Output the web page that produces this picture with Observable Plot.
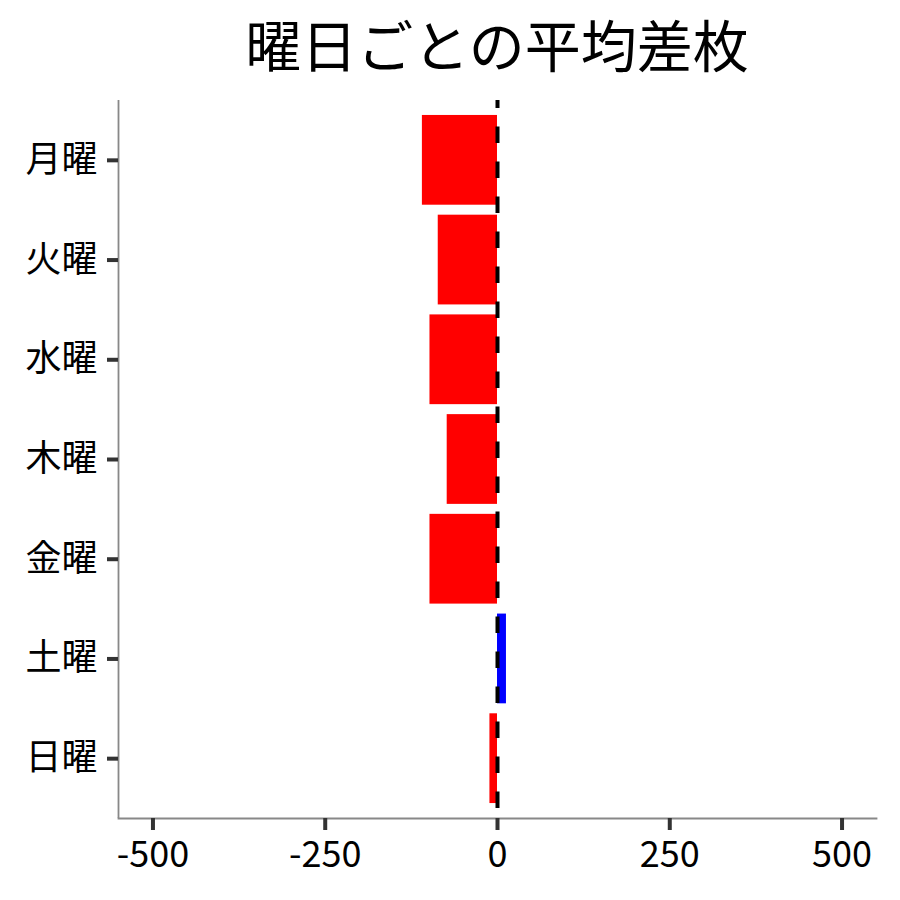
<!DOCTYPE html>
<html>
<head>
<meta charset="utf-8">
<script src="https://cdn.jsdelivr.net/npm/d3@7"></script>
<script src="https://cdn.jsdelivr.net/npm/@observablehq/plot@0.6"></script>
<style>
  body { margin: 0; background: #fff; font-family: "Noto Sans CJK JP", sans-serif; }
  #title { box-sizing: border-box; width: 900px; height: 88px; line-height: 86px; padding-left: 94px; text-align: center; font-size: 56px; color: #000; }
  svg { display: block; }
  g[aria-label="x-axis tick"], g[aria-label="y-axis tick"],
  g[aria-label="x-axis tick"] *, g[aria-label="y-axis tick"] * { stroke-width: 4px !important; stroke: #333 !important; }
</style>
</head>
<body>
<div id="title">曜日ごとの平均差枚</div>
<div id="chart"></div>
<script>
const days = ["月曜", "火曜", "水曜", "木曜", "金曜", "土曜", "日曜"];
const avgDiff = [-109, -86, -98, -73, -98, 13, -11];
const xTicks = [-500, -250, 0, 250, 500];
const xDomain = [-550, 550];
const posColor = "#0000FF";
const negColor = "#FF0000";

const data = days.map((d, i) => ({ day: d, value: avgDiff[i] }));

const chart = Plot.plot({
  width: 900,
  height: 812,
  marginTop: 12,
  marginBottom: 82,
  marginLeft: 118,
  marginRight: 24,
  style: { fontFamily: "Noto Sans CJK JP", background: "#fff" },
  x: { domain: xDomain, ticks: xTicks },
  y: { domain: days, paddingInner: 0.1, paddingOuter: 0.15, round: false },
  color: { type: "identity" },
  marks: [
    Plot.barX(data, { y: "day", x: "value", fill: d => d.value > 0 ? posColor : negColor }),
    Plot.ruleX([0], { stroke: "#000", strokeWidth: 4, strokeDasharray: "16.5,18.5", strokeDashoffset: 8.5 }),
    Plot.ruleX([xDomain[0]], { stroke: "#888", strokeWidth: 1.8 }),
    Plot.frame({ anchor: "bottom", stroke: "#888", strokeWidth: 1.8 }),
    Plot.axisX({ ticks: xTicks, tickSize: 12, tickPadding: 11, stroke: "#333", strokeWidth: 4, fill: "#000", fontSize: 36, tickFormat: d => String(d).replace("−", "-"), label: null }),
    Plot.axisY({ tickSize: 11, tickPadding: 10, stroke: "#333", strokeWidth: 4, fill: "#000", fontSize: 36, label: null })
  ]
});
document.getElementById("chart").appendChild(chart);
</script>
</body>
</html>
